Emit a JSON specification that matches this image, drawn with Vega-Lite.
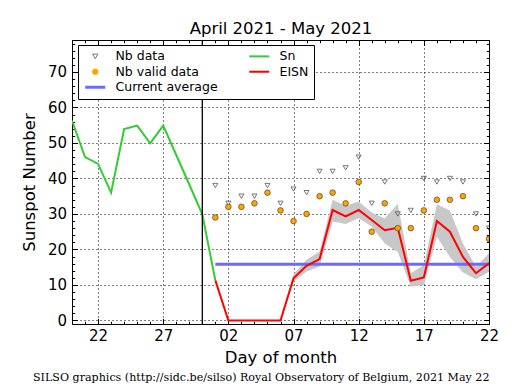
{
  "$schema": "https://vega.github.io/schema/vega-lite/v6.json",
  "width": 417,
  "height": 284,
  "autosize": {"type": "none"},
  "padding": {"left": 72, "top": 40, "right": 26, "bottom": 66},
  "title": {
    "text": "SILSO graphics (http://sidc.be/silso) Royal Observatory of Belgium, 2021 May 22",
    "orient": "bottom", "anchor": "start", "frame": "group", "dx": -39,
    "font": "DejaVu Serif", "fontSize": 11.1, "fontWeight": "normal", "color": "black", "offset": 6
  },
  "datasets": {
    "sn": [
      {"date": "2021-04-20T00:00", "sn": 56.3},
      {"date": "2021-04-21T00:00", "sn": 46.0},
      {"date": "2021-04-22T00:00", "sn": 44.1},
      {"date": "2021-04-23T00:00", "sn": 36.0},
      {"date": "2021-04-24T00:00", "sn": 53.9},
      {"date": "2021-04-25T00:00", "sn": 54.9},
      {"date": "2021-04-26T00:00", "sn": 49.9},
      {"date": "2021-04-27T00:00", "sn": 54.9},
      {"date": "2021-04-28T00:00", "sn": 46.6},
      {"date": "2021-04-29T00:00", "sn": 38.3},
      {"date": "2021-04-30T00:00", "sn": 29.9},
      {"date": "2021-05-01T00:00", "sn": 11.3}
    ],
    "eisn": [
      {"date": "2021-05-01T00:00", "eisn": 11.3, "lo": 11.3, "hi": 11.3, "nb": 38, "nbv": 29},
      {"date": "2021-05-02T00:00", "eisn": 0, "lo": 0, "hi": 0, "nb": 33, "nbv": 32},
      {"date": "2021-05-03T00:00", "eisn": 0, "lo": 0, "hi": 0, "nb": 35, "nbv": 32},
      {"date": "2021-05-04T00:00", "eisn": 0, "lo": 0, "hi": 0, "nb": 35, "nbv": 33},
      {"date": "2021-05-05T00:00", "eisn": 0, "lo": 0, "hi": 0, "nb": 38, "nbv": 36},
      {"date": "2021-05-06T00:00", "eisn": 0, "lo": 0, "hi": 0, "nb": 33, "nbv": 31},
      {"date": "2021-05-07T00:00", "eisn": 11.9, "lo": 11.0, "hi": 13.0, "nb": 37, "nbv": 28},
      {"date": "2021-05-08T00:00", "eisn": 15.4, "lo": 13.8, "hi": 17.1, "nb": 36, "nbv": 30},
      {"date": "2021-05-09T00:00", "eisn": 17.3, "lo": 15.2, "hi": 19.4, "nb": 42, "nbv": 35},
      {"date": "2021-05-10T00:00", "eisn": 31.1, "lo": 27.9, "hi": 34.0, "nb": 42, "nbv": 36},
      {"date": "2021-05-11T00:00", "eisn": 29.3, "lo": 27.2, "hi": 32.3, "nb": 43, "nbv": 33},
      {"date": "2021-05-12T00:00", "eisn": 31.1, "lo": 28.8, "hi": 33.5, "nb": 46, "nbv": 39},
      {"date": "2021-05-13T00:00", "eisn": 28.3, "lo": 26.5, "hi": 30.4, "nb": 33, "nbv": 25},
      {"date": "2021-05-14T00:00", "eisn": 25.4, "lo": 21.7, "hi": 28.7, "nb": 39, "nbv": 33},
      {"date": "2021-05-15T00:00", "eisn": 26.1, "lo": 19.3, "hi": 32.9, "nb": 30, "nbv": 26},
      {"date": "2021-05-16T00:00", "eisn": 11.2, "lo": 9.5, "hi": 13.3, "nb": 31, "nbv": 26},
      {"date": "2021-05-17T00:00", "eisn": 12.1, "lo": 10.0, "hi": 15.6, "nb": 40, "nbv": 31},
      {"date": "2021-05-18T00:00", "eisn": 28.0, "lo": 23.6, "hi": 32.7, "nb": 39, "nbv": 34},
      {"date": "2021-05-19T00:00", "eisn": 25.0, "lo": 17.9, "hi": 31.0, "nb": 40, "nbv": 34},
      {"date": "2021-05-20T00:00", "eisn": 17.9, "lo": 13.5, "hi": 21.7, "nb": 39, "nbv": 35},
      {"date": "2021-05-21T00:00", "eisn": 13.3, "lo": 11.6, "hi": 15.1, "nb": 30, "nbv": 26},
      {"date": "2021-05-22T00:00", "eisn": 16.1, "lo": 13.7, "hi": 18.9, "nb": 26, "nbv": 23}
    ],
    "avg": [
      {"start": "2021-05-01T00:00", "end": "2021-05-22T00:00", "avg": 15.8}
    ],
    "marker": [
      {"date": "2021-04-30T00:00"}
    ]
  },
  "layer": [
    {
      "data": {"name": "eisn"},
      "mark": {"type": "area", "color": "#c8c8c8", "clip": true},
      "encoding": {
        "x": {
          "field": "date", "type": "temporal",
          "scale": {"domain": [{"year": 2021, "month": 4, "date": 20}, {"year": 2021, "month": 5, "date": 22}], "nice": false},
          "axis": {
            "orient": "bottom", "title": "Day of month", "format": "%d",
            "values": [
              {"year": 2021, "month": 4, "date": 22}, {"year": 2021, "month": 4, "date": 27},
              {"year": 2021, "month": 5, "date": 2}, {"year": 2021, "month": 5, "date": 7},
              {"year": 2021, "month": 5, "date": 12}, {"year": 2021, "month": 5, "date": 17},
              {"year": 2021, "month": 5, "date": 22}
            ],
            "labelOverlap": false, "labelFlush": false, "labelPadding": 10,
            "grid": true, "tickSize": -5.5, "titlePadding": 6
          }
        },
        "y": {
          "field": "lo", "type": "quantitative",
          "scale": {"domain": [-1, 79], "nice": false, "zero": false},
          "axis": {
            "orient": "left", "title": "Sunspot Number",
            "values": [0, 10, 20, 30, 40, 50, 60, 70],
            "labelOverlap": false, "labelFlush": false, "labelPadding": 11,
            "grid": true, "tickSize": -5.5, "titlePadding": 10
          }
        },
        "y2": {"field": "hi"}
      }
    },
    {
      "data": {"name": "avg"},
      "mark": {"type": "rule", "strokeWidth": 3, "clip": true},
      "encoding": {
        "x": {
          "field": "start", "type": "temporal",
          "axis": {
            "orient": "bottom", "title": null, "labels": false, "grid": false, "domain": false,
            "tickCount": {"interval": "day", "step": 1}, "tickSize": -2.7
          }
        },
        "x2": {"field": "end"},
        "y": {
          "field": "avg", "type": "quantitative",
          "axis": {
            "orient": "left", "title": null, "labels": false, "grid": false, "domain": false,
            "values": [0,2,4,6,8,10,12,14,16,18,20,22,24,26,28,30,32,34,36,38,40,42,44,46,48,50,52,54,56,58,60,62,64,66,68,70,72,74,76,78],
            "tickSize": -2.7
          }
        },
        "color": {"datum": "Current average"}
      }
    },
    {
      "data": {"name": "sn"},
      "mark": {"type": "line", "strokeWidth": 2, "clip": true},
      "encoding": {
        "x": {
          "field": "date", "type": "temporal",
          "axis": {
            "orient": "top", "title": "April 2021 - May 2021", "labels": false, "grid": false,
            "values": [
              {"year": 2021, "month": 4, "date": 22}, {"year": 2021, "month": 4, "date": 27},
              {"year": 2021, "month": 5, "date": 2}, {"year": 2021, "month": 5, "date": 7},
              {"year": 2021, "month": 5, "date": 12}, {"year": 2021, "month": 5, "date": 17},
              {"year": 2021, "month": 5, "date": 22}
            ],
            "tickSize": -5.5, "titlePadding": 3
          }
        },
        "y": {
          "field": "sn", "type": "quantitative",
          "axis": {
            "orient": "right", "title": null, "labels": false, "grid": false,
            "values": [0, 10, 20, 30, 40, 50, 60, 70], "tickSize": -5.5
          }
        },
        "color": {
          "datum": "Sn",
          "scale": {
            "domain": ["Nb data", "Nb valid data", "Current average", "Sn", "EISN"],
            "range": ["#555555", "#ffa500", "#6b6bff", "#33cc33", "#ff0000"]
          },
          "legend": {
            "orient": "none", "legendX": 6, "legendY": 5, "columns": 2, "title": null,
            "strokeColor": "black", "fillColor": "white", "padding": 5, "cornerRadius": 0,
            "labelFont": "DejaVu Sans", "labelFontSize": 12.5, "labelColor": "black",
            "symbolSize": 400, "symbolOffset": 6, "labelOffset": 14, "columnPadding": 27, "rowPadding": 2.5,
            "encode": {
              "symbols": {
                "update": {
                  "shape": {"signal": "datum.value === 'Nb data' ? 'triangle-down' : datum.value === 'Nb valid data' ? 'circle' : 'stroke'"},
                  "size": {"signal": "datum.value === 'Nb data' ? 28 : datum.value === 'Nb valid data' ? 32 : 400"},
                  "fill": {"signal": "datum.value === 'Nb valid data' ? '#ffa500' : 'transparent'"},
                  "fillOpacity": {"signal": "datum.value === 'Nb valid data' ? 1 : 0"},
                  "stroke": {"signal": "datum.value === 'Nb data' ? '#555555' : datum.value === 'Nb valid data' ? '#333333' : datum.value === 'Sn' ? '#33cc33' : datum.value === 'EISN' ? '#ff0000' : '#6b6bff'"},
                  "strokeWidth": {"signal": "datum.value === 'Nb data' || datum.value === 'Nb valid data' ? 0.8 : datum.value === 'Current average' ? 3 : 2"},
                  "opacity": {"value": 1}
                }
              }
            }
          }
        }
      }
    },
    {
      "data": {"name": "eisn"},
      "mark": {"type": "line", "strokeWidth": 2, "clip": true},
      "encoding": {
        "x": {
          "field": "date", "type": "temporal",
          "axis": {
            "orient": "top", "title": null, "labels": false, "grid": false, "domain": false,
            "tickCount": {"interval": "day", "step": 1}, "tickSize": -2.7
          }
        },
        "y": {
          "field": "eisn", "type": "quantitative",
          "axis": {
            "orient": "right", "title": null, "labels": false, "grid": false, "domain": false,
            "values": [0,2,4,6,8,10,12,14,16,18,20,22,24,26,28,30,32,34,36,38,40,42,44,46,48,50,52,54,56,58,60,62,64,66,68,70,72,74,76,78],
            "tickSize": -2.7
          }
        },
        "color": {"datum": "EISN"}
      }
    },
    {
      "data": {"name": "eisn"},
      "mark": {"type": "point", "shape": "triangle-down", "filled": false, "size": 25, "strokeWidth": 0.8, "opacity": 1, "clip": true},
      "encoding": {
        "x": {"field": "date", "type": "temporal", "axis": null},
        "y": {"field": "nb", "type": "quantitative", "axis": null},
        "color": {"datum": "Nb data"}
      }
    },
    {
      "data": {"name": "eisn"},
      "mark": {"type": "point", "shape": "circle", "filled": true, "size": 32, "stroke": "#333333", "strokeWidth": 0.6, "opacity": 1, "clip": true},
      "encoding": {
        "x": {"field": "date", "type": "temporal", "axis": null},
        "y": {"field": "nbv", "type": "quantitative", "axis": null},
        "color": {"datum": "Nb valid data"}
      }
    },
    {
      "data": {"name": "marker"},
      "mark": {"type": "rule", "color": "black", "strokeWidth": 1.3},
      "encoding": {
        "x": {"field": "date", "type": "temporal", "axis": null}
      }
    }
  ],
  "resolve": {"axis": {"x": "independent", "y": "independent"}},
  "config": {
    "font": "DejaVu Sans",
    "view": {"stroke": null},
    "axis": {
      "domainColor": "black", "domainWidth": 1,
      "tickColor": "black", "tickWidth": 1,
      "labelFont": "DejaVu Sans", "labelFontSize": 15, "labelColor": "black",
      "titleFont": "DejaVu Sans", "titleFontSize": 16.5, "titleFontWeight": "normal", "titleColor": "black",
      "gridColor": "black", "gridDash": [1, 3], "gridWidth": 1,
      "zindex": 1
    }
  }
}
